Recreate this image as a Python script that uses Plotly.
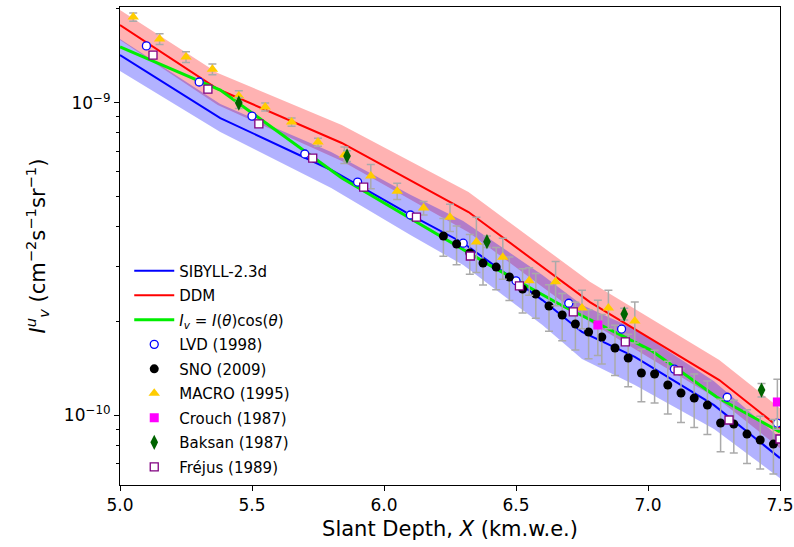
import plotly.graph_objects as go

# ---------------- model curves ----------------
sib_x = [5.0, 5.38, 5.80, 6.10, 6.30, 6.60, 6.75, 6.95, 7.25, 7.50]
sib_y = [1.421e-9, 8.93e-10, 6.09e-10, 4.37e-10, 3.555e-10, 2.334e-10, 1.845e-10, 1.535e-10, 1.076e-10, 7.28e-11]
sib_hi = [1.599e-9, 9.90e-10, 6.95e-10, 5.07e-10, 4.18e-10, 2.81e-10, 2.25e-10, 1.887e-10, 1.284e-10, 8.44e-11]
sib_lo = [1.263e-9, 8.05e-10, 5.33e-10, 3.77e-10, 3.02e-10, 1.942e-10, 1.512e-10, 1.249e-10, 9.02e-11, 6.28e-11]

ddm_x = [5.0, 5.37, 5.84, 6.32, 6.78, 7.27, 7.50]
ddm_y = [1.773e-9, 1.106e-9, 7.43e-10, 4.466e-10, 2.30e-10, 1.294e-10, 9.08e-11]
ddm_hi = [1.980e-9, 1.244e-9, 8.49e-10, 5.18e-10, 2.67e-10, 1.50e-10, 1.052e-10]
ddm_lo = [1.587e-9, 9.83e-10, 6.51e-10, 3.85e-10, 1.984e-10, 1.117e-10, 7.83e-11]

iv_x = [5.0, 5.38, 5.84, 6.11, 6.40, 6.67, 7.01, 7.26, 7.50]
iv_y = [1.508e-9, 1.098e-9, 5.74e-10, 4.21e-10, 3.02e-10, 2.25e-10, 1.614e-10, 1.142e-10, 8.83e-11]

# ---------------- measurements ----------------
lvd_x = [5.1, 5.3, 5.5, 5.7, 5.9, 6.1, 6.3, 6.5, 6.7, 6.9, 7.1, 7.3, 7.49]
lvd_y = [1.52e-9, 1.165e-9, 9.06e-10, 6.85e-10, 5.57e-10, 4.37e-10, 3.55e-10, 2.69e-10,
         2.28e-10, 1.885e-10, 1.403e-10, 1.14e-10, 9.42e-11]
lvd_err = [3.0e-11, 2.3e-11, 1.8e-11, 1.4e-11, 1.1e-11, 9e-12, 7e-12, 5e-12, 5e-12, 4e-12, 3e-12, 2e-12, 2e-12]

sno_x = [6.225, 6.275, 6.325, 6.375, 6.425, 6.475, 6.525, 6.575, 6.625, 6.675, 6.725, 6.775, 6.825,
         6.875, 6.925, 6.975, 7.025, 7.075, 7.125, 7.175, 7.225, 7.275, 7.325, 7.375, 7.425, 7.475]
sno_y = [3.742e-10, 3.528e-10, 3.302e-10, 3.066e-10, 2.977e-10, 2.766e-10, 2.532e-10, 2.440e-10,
         2.234e-10, 2.090e-10, 1.956e-10, 1.844e-10, 1.777e-10, 1.639e-10, 1.523e-10, 1.363e-10,
         1.353e-10, 1.248e-10, 1.176e-10, 1.133e-10, 1.076e-10, 9.43e-11, 9.36e-11, 8.69e-11,
         8.32e-11, 8.07e-11]
sno_err = [5.2e-11, 5.0e-11, 4.8e-11, 4.6e-11, 4.6e-11, 4.4e-11, 4.1e-11, 4.0e-11, 3.8e-11, 3.6e-11,
           3.4e-11, 3.3e-11, 3.2e-11, 3.0e-11, 2.9e-11, 2.6e-11, 2.6e-11, 2.4e-11, 2.3e-11, 2.2e-11,
           2.1e-11, 1.8e-11, 1.8e-11, 1.7e-11, 1.6e-11, 1.6e-11]

macro_x = [5.05, 5.15, 5.25, 5.35, 5.45, 5.55, 5.65, 5.75, 5.85, 5.95,
           6.05, 6.15, 6.25, 6.35, 6.45, 6.55, 6.65, 6.75, 6.85, 6.95]
macro_y = [1.88e-9, 1.60e-9, 1.40e-9, 1.28e-9, 1.05e-9, 9.69e-10, 8.67e-10, 7.48e-10, 6.80e-10, 5.82e-10,
           5.21e-10, 4.60e-10, 4.30e-10, 3.58e-10, 3.20e-10, 2.69e-10, 2.67e-10, 2.20e-10, 2.20e-10, 2.00e-10]
macro_err = [5.6e-11, 6.4e-11, 5.6e-11, 5.1e-11, 4.2e-11, 2.9e-11, 2.6e-11, 2.2e-11, 4.1e-11, 5.2e-11,
             3.1e-11, 2.3e-11, 4.3e-11, 7.2e-11, 4.8e-11, 2.7e-11, 4.3e-11, 3.1e-11, 3.1e-11, 3.0e-11]

crouch_x = [6.81, 7.49]
crouch_y = [1.942e-10, 1.101e-10]
crouch_err = [3.9e-11, 2.0e-11]

baksan_x = [5.45, 5.86, 6.39, 6.91, 7.43]
baksan_y = [9.98e-10, 6.75e-10, 3.59e-10, 2.106e-10, 1.202e-10]
baksan_err = [4.0e-11, 2.7e-11, 1.5e-11, 9e-12, 6e-12]

frejus_x = [5.125, 5.333, 5.526, 5.73, 5.923, 6.123, 6.327, 6.513, 6.717, 6.914, 7.114, 7.307, 7.5]
frejus_y = [1.42e-9, 1.106e-9, 8.55e-10, 6.65e-10, 5.37e-10, 4.30e-10, 3.23e-10, 2.59e-10,
            2.14e-10, 1.714e-10, 1.384e-10, 9.64e-11, 8.38e-11]
frejus_err = [2.8e-11, 2.2e-11, 1.7e-11, 1.3e-11, 1.1e-11, 9e-12, 6e-12, 5e-12, 4e-12, 3e-12, 3e-12, 2e-12, 2e-12]

x_ticks = [5.0, 5.5, 6.0, 6.5, 7.0, 7.5]
y_major = [1e-10, 1e-9]
y_major_text = ["10<sup>\u221210</sup>", "10<sup>\u22129</sup>"]
y_minor = [7e-11, 8e-11, 9e-11, 2e-10, 3e-10, 4e-10, 5e-10, 6e-10, 7e-10, 8e-10, 9e-10, 2e-9]

fig = go.Figure()

BAND_BLUE = "rgba(0,0,255,0.3)"
BAND_RED = "rgba(255,0,0,0.3)"

# bands
fig.add_trace(go.Scatter(x=ddm_x, y=ddm_lo, mode="lines", line=dict(width=0), showlegend=False, hoverinfo="skip"))
fig.add_trace(go.Scatter(x=ddm_x, y=ddm_hi, mode="lines", line=dict(width=0), fill="tonexty",
                         fillcolor=BAND_RED, showlegend=False, hoverinfo="skip"))
fig.add_trace(go.Scatter(x=sib_x, y=sib_lo, mode="lines", line=dict(width=0), showlegend=False, hoverinfo="skip"))
fig.add_trace(go.Scatter(x=sib_x, y=sib_hi, mode="lines", line=dict(width=0), fill="tonexty",
                         fillcolor=BAND_BLUE, showlegend=False, hoverinfo="skip"))

# lines
fig.add_trace(go.Scatter(x=sib_x, y=sib_y, mode="lines", name="SIBYLL-2.3d",
                         line=dict(color="#0000ff", width=2), legendgroup="a"))
fig.add_trace(go.Scatter(x=ddm_x, y=ddm_y, mode="lines", name="DDM",
                         line=dict(color="#ff0000", width=2), legendgroup="b"))
fig.add_trace(go.Scatter(x=iv_x, y=iv_y, mode="lines",
                         name="<i>I<sub>v</sub></i> = <i>I</i>(<i>\u03b8</i>)cos(<i>\u03b8</i>)",
                         line=dict(color="#00ee00", width=3), legendgroup="c"))

ERR = dict(type="data", color="#aaaaaa", thickness=1.5, width=4, visible=True)

def pts(x, y, err, name, grp, symbol, size, fill, edge, ew=1.3):
    e = dict(ERR)
    e["array"] = err
    fig.add_trace(go.Scatter(x=x, y=y, mode="markers", name=name, legendgroup=grp,
                             error_y=e,
                             marker=dict(symbol=symbol, size=size, color=fill,
                                         line=dict(color=edge, width=ew))))

pts(lvd_x, lvd_y, lvd_err, "LVD (1998)", "d", "circle", 8, "white", "#0000ff")
pts(sno_x, sno_y, sno_err, "SNO (2009)", "e", "circle", 9, "black", "black", 0)
pts(macro_x, macro_y, macro_err, "MACRO (1995)", "f", "triangle-up", 10, "#ffcc00", "#ffcc00", 0)
pts(crouch_x, crouch_y, crouch_err, "Crouch (1987)", "g", "square", 9, "#ff00ff", "#ff00ff", 0)
pts(baksan_x, baksan_y, baksan_err, "Baksan (1987)", "h", "diamond-tall", 11, "#006400", "#006400", 0)
pts(frejus_x, frejus_y, frejus_err, "Fr\u00e9jus (1989)", "i", "square", 8, "white", "#800080")

FONT = "DejaVu Sans, Verdana, sans-serif"

fig.update_layout(
    width=794, height=547,
    margin=dict(l=120, r=14, t=7, b=62, autoexpand=False),
    paper_bgcolor="white", plot_bgcolor="white",
    font=dict(family=FONT, color="black", size=16),
    showlegend=True,
    legend=dict(x=0.014, y=0.482, xanchor="left", yanchor="top",
                bgcolor="rgba(0,0,0,0)", borderwidth=0,
                font=dict(size=15, family=FONT),
                tracegroupgap=2, itemwidth=40),
)

fig.update_xaxes(
    range=[5.0, 7.5], tickvals=x_ticks, tickformat=".1f", automargin=False,
    showline=True, linecolor="black", linewidth=1, mirror=True,
    ticks="outside", ticklen=5, tickcolor="black", tickwidth=1,
    showgrid=False, zeroline=False,
    tickfont=dict(size=17),
    title=dict(text="Slant Depth, <i>X</i> (km.w.e.)", font=dict(size=21), standoff=6),
)
fig.update_yaxes(
    type="log", range=[-10.224, -8.6936], automargin=False,
    tickmode="array", tickvals=y_major, ticktext=y_major_text,
    showline=True, linecolor="black", linewidth=1, mirror=True,
    ticks="outside", ticklen=5, tickcolor="black", tickwidth=1,
    showgrid=False, zeroline=False,
    tickfont=dict(size=17),
    minor=dict(tickmode="array", tickvals=y_minor, ticks="outside", ticklen=3,
               tickcolor="black", tickwidth=0.8, showgrid=False),
    title=dict(text="<i>I</i><sup><i>u</i></sup><sub><i>v</i></sub> (cm<sup>\u22122</sup>s<sup>\u22121</sup>sr<sup>\u22121</sup>)",
               font=dict(size=21), standoff=12),
)

fig.write_html("out.html")
